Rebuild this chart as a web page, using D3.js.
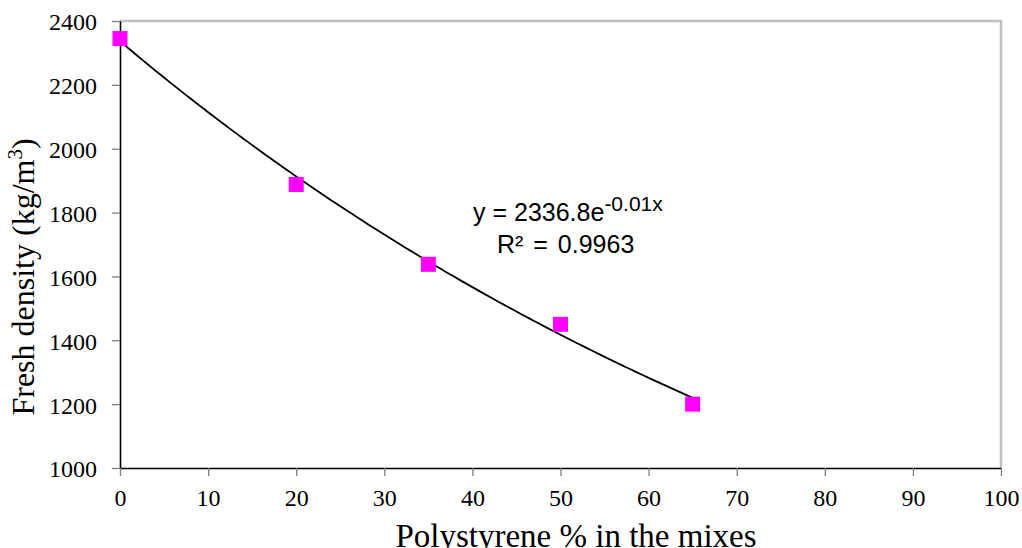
<!DOCTYPE html>
<html>
<head>
  <meta charset="utf-8">
  <script src="https://d3js.org/d3.v7.min.js"></script>
  <style>
    body { margin: 0; background: #fff; }
  </style>
</head>
<body>
<script>
  // measured points
  var polystyrene = [0, 20, 35, 50, 65];
  var density = [2345, 1888, 1638, 1450, 1200];

  // trendline coefficients, y = a * e^(b x)
  var fitA = 2336.8, fitB = -0.01;

  var xTicks = [0, 10, 20, 30, 40, 50, 60, 70, 80, 90, 100];
  var yTicks = [1000, 1200, 1400, 1600, 1800, 2000, 2200, 2400];

  var width = 1022, height = 548;
  var plot = { left: 120, right: 1001, top: 21, bottom: 468 };

  var svg = d3.select("body").append("svg")
    .attr("width", width)
    .attr("height", height);

  var x = d3.scaleLinear().domain([0, 100]).range([plot.left, plot.right]);
  var y = d3.scaleLinear().domain([1000, 2400]).range([plot.bottom, plot.top]);

  // top and right border
  svg.append("path")
    .attr("d", "M" + plot.left + "," + plot.top + "H" + plot.right + "V" + plot.bottom)
    .style("fill", "none")
    .style("stroke", "#c0c0c0")
    .style("stroke-width", 2.5);

  // y axis
  var yAxis = svg.append("g")
    .attr("transform", "translate(" + plot.left + ",0)")
    .call(d3.axisLeft(y).tickValues(yTicks).tickFormat(d3.format("d"))
      .tickSize(8).tickPadding(15).tickSizeOuter(0));

  // x axis
  var xAxis = svg.append("g")
    .attr("transform", "translate(0," + plot.bottom + ")")
    .call(d3.axisBottom(x).tickValues(xTicks).tickFormat(d3.format("d"))
      .tickSize(8).tickPadding(13).tickSizeOuter(0));

  [yAxis, xAxis].forEach(function(ax){
    ax.select(".domain").style("stroke", "#000").style("stroke-width", 1.6);
    ax.selectAll(".tick line").style("stroke", "#7f7f7f").style("stroke-width", 1.3);
    ax.selectAll("text")
      .style("font-family", "'Liberation Serif', 'Times New Roman', serif")
      .style("font-size", "24px")
      .style("fill", "#000");
  });
  xAxis.selectAll("text").attr("dy", "0.71em");
  yAxis.selectAll("text").attr("dy", "0.37em");

  // trendline
  var fitX = d3.range(0, 65.01, 0.5);
  var line = d3.line()
    .x(function(d){ return x(d); })
    .y(function(d){ return y(fitA * Math.exp(fitB * d)); });

  svg.append("path")
    .datum(fitX)
    .attr("d", line)
    .style("fill", "none")
    .style("stroke", "#000")
    .style("stroke-width", 1.8);

  // markers
  var pts = polystyrene.map(function(p, i){ return { x: p, y: density[i] }; });
  var size = 15;
  svg.selectAll(".pt")
    .data(pts)
    .enter()
    .append("rect")
    .attr("class", "pt")
    .attr("x", function(d){ return x(d.x) - size / 2; })
    .attr("y", function(d){ return y(d.y) - size / 2; })
    .attr("width", size)
    .attr("height", size)
    .style("fill", "#ff00ff");

  // equation label
  var eq = svg.append("text")
    .attr("x", 473)
    .attr("y", 221)
    .style("font-family", "'Liberation Sans', Arial, sans-serif")
    .style("font-size", "25px")
    .style("fill", "#000");
  eq.append("tspan").text("y = 2336.8e");
  eq.append("tspan").attr("dy", -10).style("font-size", "21px").text("-0.01x");

  svg.append("text")
    .attr("x", 497)
    .attr("y", 253)
    .style("font-family", "'Liberation Sans', Arial, sans-serif")
    .style("font-size", "25px")
    .style("word-spacing", "3px")
    .style("fill", "#000")
    .text("R² = 0.9963");

  // axis titles
  svg.append("text")
    .attr("x", 576)
    .attr("y", 547)
    .attr("text-anchor", "middle")
    .style("font-family", "'Liberation Serif', 'Times New Roman', serif")
    .style("font-size", "33px")
    .text("Polystyrene % in the mixes");

  var yt = svg.append("text")
    .attr("transform", "translate(34,277) rotate(-90)")
    .attr("text-anchor", "middle")
    .style("font-family", "'Liberation Serif', 'Times New Roman', serif")
    .style("font-size", "32px");
  yt.append("tspan").text("Fresh density (kg/m");
  yt.append("tspan").attr("dy", -12).style("font-size", "21px").text("3");
  yt.append("tspan").attr("dy", 12).text(")");
</script>
</body>
</html>
